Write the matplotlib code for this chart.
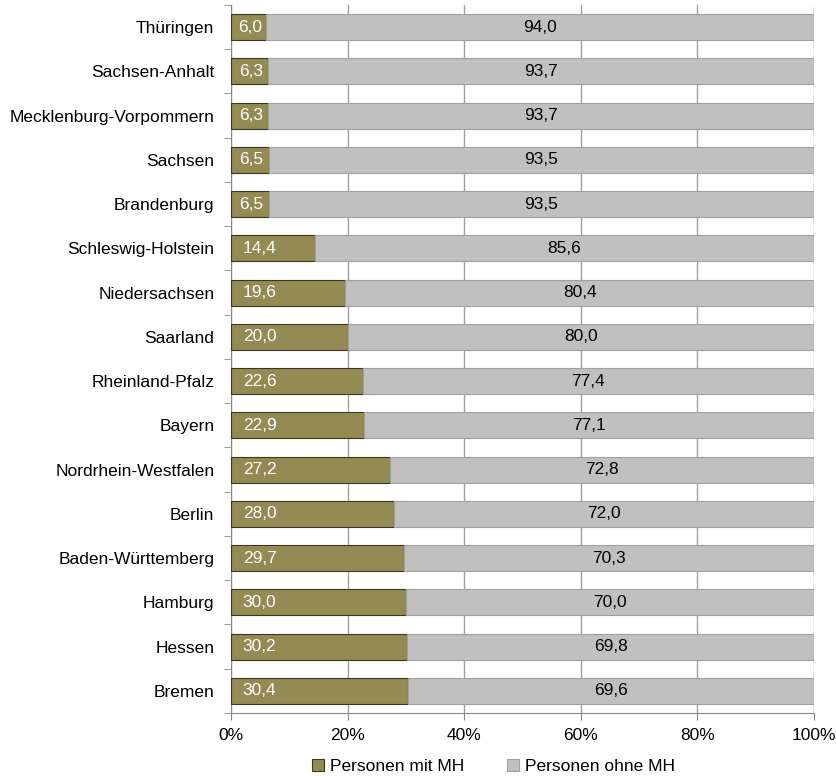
import matplotlib
matplotlib.use("Agg")
import matplotlib.pyplot as plt
import numpy as np

plt.rcParams['font.family'] = ['Liberation Sans', 'DejaVu Sans']

laender = ["Thüringen", "Sachsen-Anhalt", "Mecklenburg-Vorpommern", "Sachsen", "Brandenburg",
           "Schleswig-Holstein", "Niedersachsen", "Saarland", "Rheinland-Pfalz", "Bayern",
           "Nordrhein-Westfalen", "Berlin", "Baden-Württemberg", "Hamburg", "Hessen", "Bremen"]
mit_mh = [6.0, 6.3, 6.3, 6.5, 6.5, 14.4, 19.6, 20.0, 22.6, 22.9, 27.2, 28.0, 29.7, 30.0, 30.2, 30.4]
ohne_mh = [94.0, 93.7, 93.7, 93.5, 93.5, 85.6, 80.4, 80.0, 77.4, 77.1, 72.8, 72.0, 70.3, 70.0, 69.8, 69.6]
series_names = ["Personen mit MH", "Personen ohne MH"]

fs = 12.5
fig = plt.figure(figsize=(8.36, 7.76), dpi=100)
ax = fig.add_axes([0.2763, 0.0812, 0.6974, 0.9124])

n = len(laender)
y = np.arange(n)
h = 0.59
c1 = "#948a54"
c2 = "#c0c0c0"

ax.barh(y, mit_mh, height=h, color=c1, edgecolor="#3a3620", linewidth=0.8, zorder=3, label=series_names[0])
ax.barh(y, ohne_mh, left=mit_mh, height=h, color=c2, edgecolor="#a0a0a0", linewidth=0.8, zorder=3, label=series_names[1])

def fmt(v):
    return f"{v:.1f}".replace(".", ",")

for i in range(n):
    if mit_mh[i] > 10:
        ax.text(2.0, y[i], fmt(mit_mh[i]), ha="left", va="center", color="white", fontsize=fs, zorder=4)
    else:
        ax.text(mit_mh[i] / 2 + 0.3, y[i], fmt(mit_mh[i]), ha="center", va="center", color="white", fontsize=fs, zorder=4)
    ax.text(mit_mh[i] + ohne_mh[i] / 2, y[i], fmt(ohne_mh[i]),
            ha="center", va="center", color="black", fontsize=fs, zorder=4)

ax.set_xlim(0, 100)
ax.set_ylim(n - 0.5, -0.5)
ax.set_xticks(np.arange(0, 101, 20))
ax.set_xticklabels([f"{v}%" for v in range(0, 101, 20)], fontsize=fs)
ax.set_yticks(y)
ax.set_yticklabels(laender, fontsize=fs)
ax.tick_params(axis="y", length=0, pad=12)
ax.set_yticks(np.arange(-0.5, n, 1), minor=True)
ax.tick_params(axis="y", which="minor", length=5, color="#888888")
ax.tick_params(axis="x", length=5, color="#888888", pad=6)
ax.grid(axis="x", color="#a0a0a0", linewidth=1, zorder=0)
for s in ["top", "right"]:
    ax.spines[s].set_visible(False)
for s in ["left", "bottom"]:
    ax.spines[s].set_color("#888888")

leg = ax.legend(loc="center", bbox_to_anchor=(0.45, -0.076), ncol=2, frameon=False,
                fontsize=fs, handlelength=0.7, handleheight=0.7, handletextpad=0.3, columnspacing=2.5,
                borderpad=0.1)

fig.savefig("out.png", dpi=100)
